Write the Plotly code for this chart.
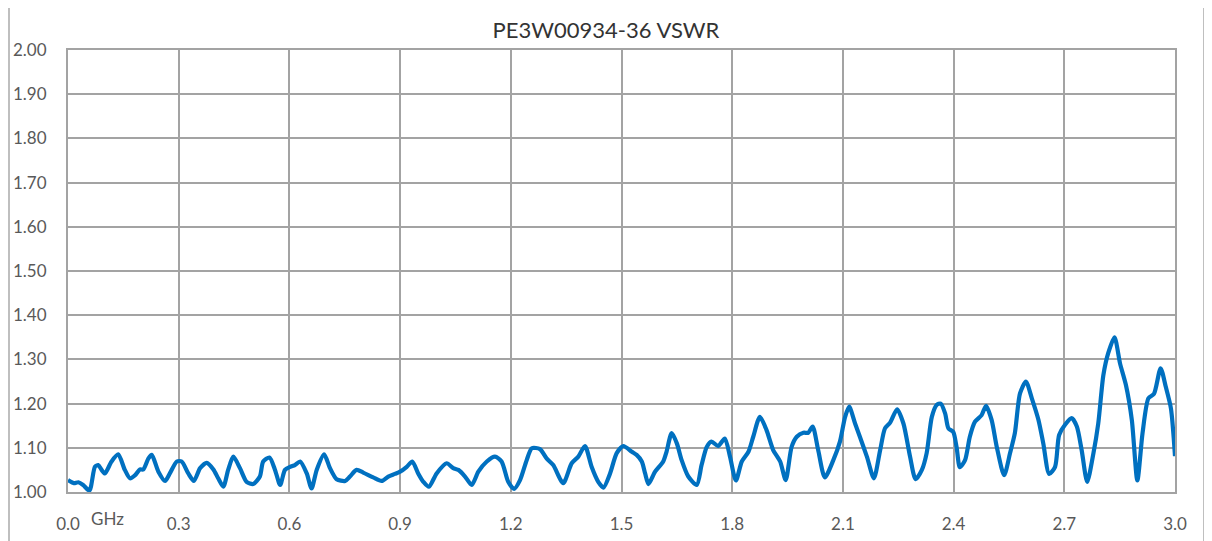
import plotly.graph_objects as go

freq_ghz = [0.000, 0.016, 0.028, 0.041, 0.058, 0.073, 0.082, 0.091, 0.100, 0.118,
            0.136, 0.154, 0.168, 0.182, 0.195, 0.204, 0.218, 0.227, 0.245, 0.263,
            0.276, 0.295, 0.308, 0.326, 0.341, 0.358, 0.376, 0.394, 0.407, 0.421,
            0.434, 0.448, 0.466, 0.484, 0.502, 0.520, 0.529, 0.546, 0.561, 0.575,
            0.588, 0.602, 0.615, 0.629, 0.647, 0.660, 0.674, 0.694, 0.710, 0.728,
            0.751, 0.764, 0.782, 0.800, 0.827, 0.850, 0.868, 0.886, 0.900, 0.918,
            0.933, 0.949, 0.963, 0.978, 0.999, 1.026, 1.044, 1.058, 1.076, 1.094,
            1.112, 1.135, 1.157, 1.175, 1.193, 1.209, 1.225, 1.243, 1.257, 1.279,
            1.297, 1.315, 1.342, 1.365, 1.383, 1.401, 1.419, 1.437, 1.451, 1.469,
            1.487, 1.505, 1.528, 1.541, 1.555, 1.564, 1.573, 1.591, 1.613, 1.622,
            1.636, 1.650, 1.663, 1.681, 1.704, 1.717, 1.731, 1.744, 1.762, 1.780,
            1.794, 1.810, 1.826, 1.844, 1.857, 1.875, 1.893, 1.911, 1.930, 1.945,
            1.961, 1.975, 1.993, 2.006, 2.018, 2.033, 2.051, 2.074, 2.092, 2.106,
            2.117, 2.133, 2.146, 2.165, 2.184, 2.201, 2.214, 2.228, 2.247, 2.264,
            2.282, 2.297, 2.314, 2.327, 2.341, 2.354, 2.365, 2.377, 2.386, 2.399,
            2.408, 2.417, 2.431, 2.444, 2.458, 2.476, 2.488, 2.503, 2.517, 2.537,
            2.553, 2.566, 2.580, 2.596, 2.612, 2.630, 2.643, 2.659, 2.675, 2.686,
            2.702, 2.720, 2.734, 2.747, 2.762, 2.779, 2.792, 2.806, 2.819, 2.836,
            2.851, 2.867, 2.883, 2.898, 2.912, 2.928, 2.943, 2.961, 2.975, 2.989,
            3.000]

vswr = [1.027, 1.020, 1.022, 1.016, 1.003, 1.057, 1.061, 1.050, 1.042, 1.069,
        1.085, 1.050, 1.031, 1.038, 1.051, 1.051, 1.076, 1.084, 1.046, 1.025,
        1.042, 1.069, 1.069, 1.042, 1.025, 1.054, 1.066, 1.051, 1.031, 1.012,
        1.050, 1.080, 1.054, 1.023, 1.018, 1.035, 1.069, 1.078, 1.050, 1.016,
        1.050, 1.057, 1.061, 1.069, 1.042, 1.008, 1.050, 1.085, 1.054, 1.029,
        1.025, 1.035, 1.050, 1.044, 1.033, 1.025, 1.035, 1.041, 1.046, 1.057,
        1.069, 1.042, 1.023, 1.012, 1.042, 1.065, 1.054, 1.050, 1.035, 1.016,
        1.046, 1.069, 1.080, 1.069, 1.023, 1.007, 1.027, 1.072, 1.099, 1.097,
        1.076, 1.061, 1.020, 1.065, 1.080, 1.104, 1.057, 1.023, 1.010, 1.042,
        1.088, 1.104, 1.091, 1.084, 1.069, 1.042, 1.018, 1.046, 1.069, 1.091,
        1.133, 1.110, 1.072, 1.035, 1.016, 1.061, 1.102, 1.114, 1.104, 1.121,
        1.080, 1.026, 1.069, 1.091, 1.125, 1.170, 1.140, 1.095, 1.069, 1.027,
        1.102, 1.125, 1.134, 1.134, 1.148, 1.095, 1.033, 1.072, 1.114, 1.170,
        1.193, 1.155, 1.125, 1.080, 1.031, 1.095, 1.144, 1.157, 1.187, 1.155,
        1.080, 1.029, 1.050, 1.088, 1.170, 1.197, 1.200, 1.178, 1.144, 1.136,
        1.102, 1.056, 1.072, 1.125, 1.159, 1.174, 1.195, 1.163, 1.102, 1.038,
        1.088, 1.133, 1.223, 1.250, 1.212, 1.163, 1.110, 1.041, 1.057, 1.129,
        1.152, 1.167, 1.148, 1.095, 1.023, 1.088, 1.155, 1.265, 1.314, 1.350,
        1.291, 1.242, 1.163, 1.026, 1.133, 1.212, 1.222, 1.280, 1.238, 1.189,
        1.081]

x_tick_vals = [0.0, 0.3, 0.6, 0.9, 1.2, 1.5, 1.8, 2.1, 2.4, 2.7, 3.0]
x_tick_text = ["0.0", "0.3", "0.6", "0.9", "1.2", "1.5", "1.8", "2.1", "2.4", "2.7", "3.0"]
y_tick_vals = [1.0, 1.1, 1.2, 1.3, 1.4, 1.5, 1.6, 1.7, 1.8, 1.9, 2.0]
y_tick_text = ["1.00", "1.10", "1.20", "1.30", "1.40", "1.50", "1.60", "1.70", "1.80", "1.90", "2.00"]
title_text = "PE3W00934-36 VSWR"
unit_text = "GHz"

# the page body adds an 8px offset, so the figure is drawn 8px smaller
OFF = 8
W, H = 1212 - OFF, 541 - OFF
L, R, T, B = 68 - OFF, 37, 50 - OFF, 49
PW, PH = W - L - R, H - T - B

def px(x):
    return (x - OFF - L) / PW

def py(y):
    return (H - B - (y - OFF)) / PH

grid_col = "#A3A3A3"
font_fam = "Lato, 'Liberation Sans', sans-serif"

fig = go.Figure()
fig.add_trace(go.Scatter(
    x=freq_ghz, y=vswr, mode="lines",
    line=dict(color="#0070C0", width=4.2, shape="spline", smoothing=0.7),
    hoverinfo="skip",
))

shapes = [
    dict(type="rect", xref="paper", yref="paper",
         x0=px(9), x1=px(1204), y0=py(560), y1=py(5),
         line=dict(color="#BFBFBF", width=2), layer="below"),
]

fig.update_layout(
    width=W, height=H,
    margin=dict(l=L, r=R, t=T, b=B, autoexpand=False),
    paper_bgcolor="white", plot_bgcolor="rgba(0,0,0,0)",
    showlegend=False,
    title=dict(text=title_text, x=(606 - OFF) / W, xanchor="center", y=1 - (30 - OFF) / H,
               yanchor="middle",
               font=dict(family=font_fam, size=22, color="#333333")),
    shapes=shapes,
    annotations=[dict(text=unit_text, xref="x", yref="paper", x=0.108, y=py(518),
                      xanchor="center", yanchor="middle", showarrow=False,
                      bgcolor="white", font=dict(family=font_fam, size=17, color="#595959"))],
)
fig.update_xaxes(
    range=[0, 3], tickvals=x_tick_vals, ticktext=x_tick_text,
    showgrid=True, gridcolor=grid_col, gridwidth=2,
    showline=True, linecolor=grid_col, linewidth=2, mirror=True,
    zeroline=False, ticks="", ticklabelstandoff=16, automargin=False,
    tickfont=dict(family=font_fam, size=17, color="#595959"),
)
fig.update_yaxes(
    range=[1, 2], tickvals=y_tick_vals, ticktext=y_tick_text,
    showgrid=True, gridcolor=grid_col, gridwidth=2,
    showline=True, linecolor=grid_col, linewidth=2, mirror=True,
    zeroline=False, ticks="", ticklabelstandoff=16, automargin=False,
    tickfont=dict(family=font_fam, size=17, color="#595959"),
)

fig.write_html("out.html")
